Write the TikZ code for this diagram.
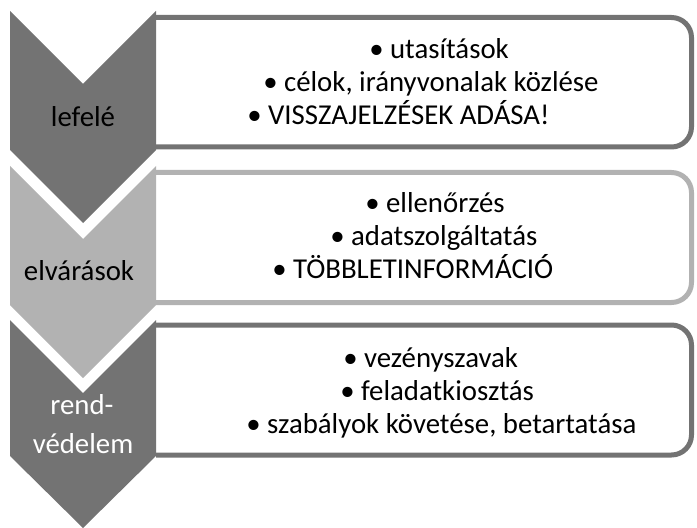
\documentclass[tikz,border=0pt]{standalone}
\usepackage{fontspec}
\setmainfont{Carlito}

\definecolor{darkgrey}{RGB}{115,115,115}
\definecolor{lightgrey}{RGB}{178,178,178}

\tikzstyle{chevdark} = [fill=darkgrey, draw=none]
\tikzstyle{chevlight} = [fill=lightgrey, draw=none]
\tikzstyle{boxdark} = [draw=darkgrey, line width=3.75pt, rounded corners=15pt]
\tikzstyle{boxlight} = [draw=lightgrey, line width=3.75pt, rounded corners=15pt]
\tikzstyle{listline} = [anchor=base west, inner sep=0pt, font=\fontsize{21.6}{25}\selectfont]
\tikzstyle{chevtext} = [anchor=base, inner sep=0pt, font=\fontsize{21.6}{25}\selectfont]

\begin{document}
\begin{tikzpicture}[x=0.75pt, y=-0.75pt]
\useasboundingbox (0,0) rectangle (697,528);

		% boxes behind the chevrons
		\draw [boxdark] (156,17.5) -- (691.5,17.5) -- (691.5,147) -- (156,147);
		\draw [boxlight] (156,172.5) -- (691.5,172.5) -- (691.5,302.5) -- (156,302.5);
		\draw [boxdark] (156,325) -- (691.5,325) -- (691.5,455) -- (156,455);

		% chevrons
		\fill [chevdark] (10,11) -- (83,84) -- (156,11) -- (156,150) -- (83,223) -- (10,150) -- cycle;
		\fill [chevlight] (10,166) -- (83,239) -- (156,166) -- (156,305) -- (83,378) -- (10,305) -- cycle;
		\fill [chevdark] (10,320) -- (83,393) -- (156,320) -- (156,456) -- (83,528) -- (10,456) -- cycle;

		\node (down) [chevtext] at (83,127) {lefelé};
		\node (expect) [chevtext] at (79,280) {elvárások};
		\node (order1) [chevtext, white] at (82,414) {rend-};
		\node (order2) [chevtext, white] at (83,453) {védelem};

		\node (d1) [listline] at (369,59) {• utasítások};
		\node (d2) [listline] at (263,92) {• célok, irányvonalak közlése};
		\node (d3) [listline] at (247,125) {• VISSZAJELZÉSEK ADÁSA!};

		\node (e1) [listline] at (365,212) {• ellenőrzés};
		\node (e2) [listline] at (330,245) {• adatszolgáltatás};
		\node (e3) [listline] at (272,278) {• TÖBBLETINFORMÁCIÓ};

		\node (o1) [listline] at (343,367) {• vezényszavak};
		\node (o2) [listline] at (340,400) {• feladatkiosztás};
		\node (o3) [listline] at (246,433) {• szabályok követése, betartatása};
\end{tikzpicture}
\end{document}
